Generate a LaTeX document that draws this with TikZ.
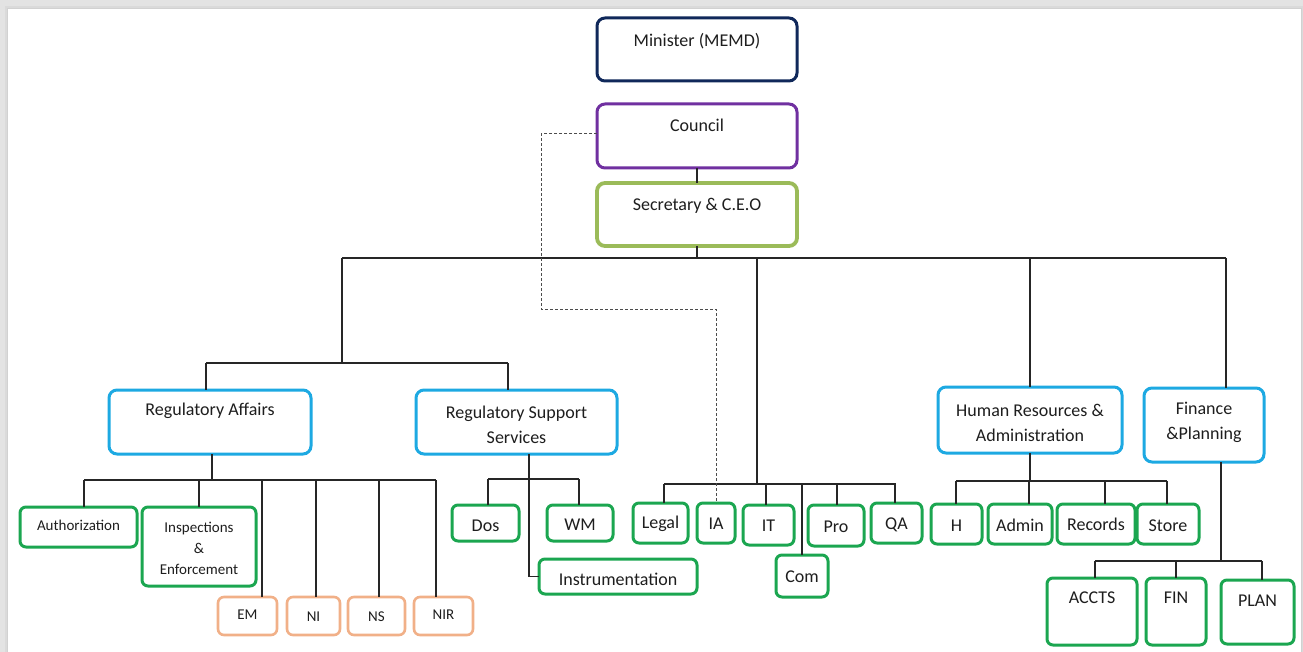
\documentclass[tikz,border=0pt]{standalone}
\usepackage{fontspec}
\setmainfont{Carlito}
\usetikzlibrary{calc}

\definecolor{navyline}{HTML}{10285A}
\definecolor{purpleline}{HTML}{7030A0}
\definecolor{oliveline}{HTML}{9BBB59}
\definecolor{blueline}{HTML}{1DA9E2}
\definecolor{greenline}{HTML}{1BA650}
\definecolor{orangeline}{HTML}{F1B088}
\definecolor{inkgray}{HTML}{1E1E1E}
\definecolor{framegray}{HTML}{E3E3E3}

\tikzset{
  box/.style={draw, fill=white, rounded corners=8pt, line width=3pt, inner sep=0pt, outer sep=0pt},
  topbox/.style={box, draw=navyline},
  councilbox/.style={box, draw=purpleline},
  ceobox/.style={box, draw=oliveline, line width=3.8pt},
  deptbox/.style={box, draw=blueline},
  unitbox/.style={box, draw=greenline, rounded corners=6pt},
  subbox/.style={box, draw=orangeline, line width=2.6pt, rounded corners=6pt},
  lbl/.style={inner sep=0pt, align=center, text=inkgray, font=\fontsize{18}{25}\selectfont},
  smalllbl/.style={lbl, font=\fontsize{15}{21}\selectfont},
  conn/.style={draw=black!85, line width=1.1pt},
  dashconn/.style={draw=black!70, line width=1pt, dash pattern=on 3pt off 2pt},
}

% #1 box style, #2 name, #3-#6 corners (x1,y1,x2,y2), #7 label style, #8 label y, #9 text
\newcommand\orgbox[9]{%
  \node[#1, minimum width={#5-#3}, minimum height={#6-#4}] (#2) at ({(#3+#5)/2},{(#4+#6)/2}) {};
  \node[#7] (#2-t) at ({(#3+#5)/2},#8) {#9};
}

\begin{document}
\begin{tikzpicture}[x=1pt, y=-1pt]
\useasboundingbox (0,0) rectangle (1303,652);

% page and its frame
\fill[framegray] (0,0) rectangle (1303,652);
\fill[black, opacity=0.04] (5,6) rectangle (1303,652);
\fill[black, opacity=0.04] (7,8) rectangle (1302,652);
\fill[white] (8,9) rectangle (1301,652);

% leadership
\orgbox{topbox}{min}{597}{18}{797}{81}{lbl}{41}{Minister (MEMD)}
\orgbox{councilbox}{cou}{597}{104}{797}{168}{lbl}{125}{Council}
\orgbox{ceobox}{sec}{597}{183}{797}{246}{lbl}{206}{Secretary \& C.E.O}

% departments
\orgbox{deptbox}{ra}{109}{390}{311}{454}{lbl}{411}{Regulatory Affairs}
\orgbox{deptbox}{rss}{416}{390}{617}{454}{lbl}{424.5}{Regulatory Support\\Services}
\orgbox{deptbox}{hr}{938}{387}{1122}{453}{lbl}{422.5}{Human Resources \&\\Administration}
\orgbox{deptbox}{finp}{1144}{388}{1264}{462}{lbl}{422.5}{Finance\\\&Planning}

% Regulatory Affairs units
\orgbox{unitbox}{auth}{20}{507}{137}{547}{smalllbl}{525}{Authorization}
\orgbox{unitbox}{insp}{142}{507}{256}{586}{smalllbl}{548}{Inspections\\\&\\Enforcement}
\orgbox{subbox}{em}{218}{597}{277}{635}{smalllbl}{615}{EM}
\orgbox{subbox}{ni}{287}{597}{340}{635}{smalllbl}{617}{NI}
\orgbox{subbox}{ns}{348}{597}{405}{635}{smalllbl}{617}{NS}
\orgbox{subbox}{nir}{414}{597}{473}{635}{smalllbl}{615}{NIR}

% Regulatory Support Services units
\orgbox{unitbox}{dos}{452}{505}{519}{541}{lbl}{526}{Dos}
\orgbox{unitbox}{wm}{547}{505}{613}{541}{lbl}{525}{WM}
\orgbox{unitbox}{inst}{539}{559}{697}{594}{lbl}{579}{Instrumentation}

% units under the Secretary
\orgbox{unitbox}{legal}{633}{503}{688}{543}{lbl}{524}{Legal}
\orgbox{unitbox}{ia}{697}{503}{735}{543}{lbl}{524}{IA}
\orgbox{unitbox}{it}{743}{505}{794}{545}{lbl}{526}{IT}
\orgbox{unitbox}{com}{776}{555}{828}{597}{lbl}{577}{Com}
\orgbox{unitbox}{pro}{808}{505}{864}{546}{lbl}{527}{Pro}
\orgbox{unitbox}{qa}{871}{503}{922}{543}{lbl}{525}{QA}

% Human Resources units
\orgbox{unitbox}{h}{931}{504}{982}{544}{lbl}{526}{H}
\orgbox{unitbox}{admin}{988}{504}{1052}{544}{lbl}{525}{Admin}
\orgbox{unitbox}{rec}{1057}{504}{1135}{544}{lbl}{524}{Records}
\orgbox{unitbox}{store}{1137}{504}{1199}{544}{lbl}{526}{Store}

% Finance units
\orgbox{unitbox}{accts}{1047}{578}{1137}{645}{lbl}{598}{ACCTS}
\orgbox{unitbox}{fin}{1146}{578}{1206}{645}{lbl}{598}{FIN}
\orgbox{unitbox}{plan}{1221}{580}{1294}{644}{lbl}{601}{PLAN}

% bus junctions
\coordinate (topbus) at (342,258);
\coordinate (regbus) at (342,363);
\coordinate (midbus) at (757,484);
\coordinate (rabus) at (212,480);
\coordinate (rssbus) at (529,479);
\coordinate (hrbus) at (1030,481);
\coordinate (finbus) at (1221,561);

% leadership chain
\draw[conn] (cou.south) -- (sec.north);
\draw[conn] (sec.south) -- (sec.south |- topbus);
\draw[conn] (topbus) -- (1226,258);
\draw[conn] (topbus) -- (regbus);
\draw[conn] (midbus |- topbus) -- (midbus);
\draw[conn] (hr.north |- topbus) -- (hr.north);
\draw[conn] (1226,258) -- (1226,258 |- finp.north);

% the two regulatory departments
\draw[conn] (206,363) -- (508,363);
\draw[conn] (206,363) -- (206,363 |- ra.north);
\draw[conn] (508,363) -- (508,363 |- rss.north);

% Regulatory Affairs branch
\draw[conn] (ra.south -| rabus) -- (rabus);
\draw[conn] (84,480) -- (436,480);
\foreach \n/\x in {auth/84, insp/199, em/262, ni/316, ns/379, nir/436}
  \draw[conn] (\x,480) -- (\x,480 |- \n.north);

% Regulatory Support Services branch
\draw[conn] (rss.south -| rssbus) -- (rssbus |- inst.west) -- (inst.west);
\draw[conn] (488,479) -- (579,479);
\foreach \n/\x in {dos/488, wm/579}
  \draw[conn] (\x,479) -- (\x,479 |- \n.north);

% units under the Secretary
\draw[conn] (664,484) -- (896,484);
\foreach \n/\x in {legal/664, it/766, com/802, pro/837, qa/895}
  \draw[conn] (\x,484) -- (\x,484 |- \n.north);

% Human Resources branch
\draw[conn] (hr.south -| hrbus) -- (hrbus);
\draw[conn] (956,481) -- (1167,481);
\foreach \n/\x in {h/956, admin/1029, rec/1105, store/1167}
  \draw[conn] (\x,481) -- (\x,481 |- \n.north);

% Finance branch
\draw[conn] (finp.south -| finbus) -- (finbus);
\draw[conn] (1095,561) -- (1262,561);
\foreach \n/\x in {accts/1095, fin/1176, plan/1262}
  \draw[conn] (\x,561) -- (\x,561 |- \n.north);

% advisory link from the Council to Internal Audit
\draw[dashconn] (cou.west |- 0,134) -| (541,309) -| (ia.north);
\end{tikzpicture}
\end{document}
